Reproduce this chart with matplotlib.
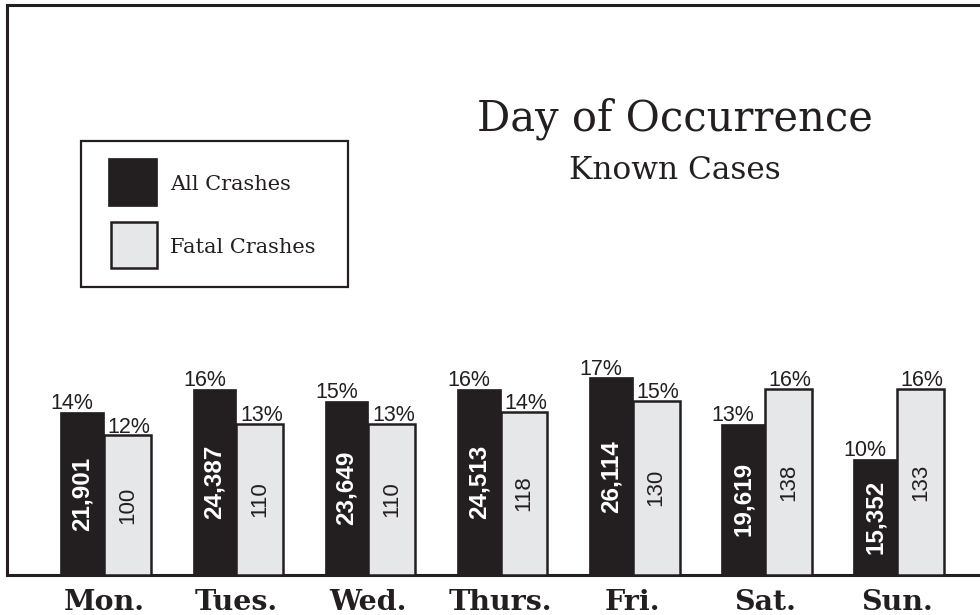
import numpy as np
import matplotlib.pyplot as plt
from matplotlib.patches import Rectangle

days = ['Mon.', 'Tues.', 'Wed.', 'Thurs.', 'Fri.', 'Sat.', 'Sun.']
all_crashes = [21901, 24387, 23649, 24513, 26114, 19619, 15352]
all_pct = [14, 16, 15, 16, 17, 13, 10]
fatal_crashes = [100, 110, 110, 118, 130, 138, 133]
fatal_pct = [12, 13, 13, 14, 15, 16, 16]

W, H = 980, 615
DARK = '#231f20'
LIGHT = '#e6e7e8'
sans = 'Liberation Sans'
serif = 'DejaVu Serif'


def px(x, y):
    # pixel position (from top-left) -> figure fraction
    return x / W, 1 - y / H


fig = plt.figure(figsize=(W / 100, H / 100), dpi=100)
ax = fig.add_axes([7 / W, (H - 575) / H, (W - 7) / W, 570 / H])

x = np.arange(len(days))
bw, gw = 0.33, 0.355

ax.bar(x - bw, all_pct, width=bw, align='edge', color=DARK, edgecolor=DARK,
       linewidth=0.5, zorder=2)
ax.bar(x, fatal_pct, width=gw, align='edge', color=LIGHT, edgecolor=DARK,
       linewidth=1.8, zorder=3)

for i in range(len(days)):
    ax.annotate(f'{all_pct[i]}%', (x[i] - 0.24, all_pct[i]), xytext=(0, 2),
                textcoords='offset points', ha='center', va='baseline',
                fontsize=15.5, family=sans, color=DARK, zorder=4)
    ax.annotate(f'{fatal_pct[i]}%', (x[i] + 0.19, fatal_pct[i]), xytext=(0, 2),
                textcoords='offset points', ha='center', va='baseline',
                fontsize=15.5, family=sans, color=DARK, zorder=4)
    ax.text(x[i] - bw / 2, all_pct[i] / 2, f'{all_crashes[i]:,}', rotation=90,
            ha='center', va='center', fontsize=17.5, fontweight='bold',
            family=sans, color='white', zorder=4)
    ax.text(x[i] + gw / 2, fatal_pct[i] / 2, f'{fatal_crashes[i]}', rotation=90,
            ha='center', va='center', fontsize=16, family=sans, color=DARK,
            zorder=4)

ax.set_xlim(-0.734, 6.628)
ax.set_ylim(0, 49.03)
ax.set_yticks([])
ax.set_xticks(x, days)
ax.tick_params(axis='x', length=0, pad=10)
for lab in ax.get_xticklabels():
    lab.set_fontfamily(serif)
    lab.set_fontweight('bold')
    lab.set_fontsize(20.5)
    lab.set_color(DARK)

for s in ['left', 'top', 'bottom']:
    ax.spines[s].set_linewidth(2.2)
    ax.spines[s].set_color(DARK)
ax.spines['right'].set_visible(False)

# title
fig.text(*px(675, 131), 'Day of Occurrence', ha='center', va='baseline',
         family=serif, fontsize=30, color=DARK)
fig.text(*px(675, 179), 'Known Cases', ha='center', va='baseline',
         family=serif, fontsize=22.5, color=DARK)

# legend box
def frect(x0, y0, x1, y1, **kw):
    fx0, fy1 = px(x0, y1)
    fig.add_artist(Rectangle((fx0, fy1), (x1 - x0) / W, (y1 - y0) / H,
                             transform=fig.transFigure, **kw))

frect(81, 141, 348, 287, facecolor='white', edgecolor=DARK, linewidth=1.6)
frect(108, 158, 157, 206, facecolor=DARK, edgecolor=DARK, linewidth=0.5)
frect(111, 222, 157, 268, facecolor=LIGHT, edgecolor=DARK, linewidth=1.8)
fig.text(*px(170, 190), 'All Crashes', ha='left', va='baseline',
         family=serif, fontsize=15, color=DARK)
fig.text(*px(170, 253), 'Fatal Crashes', ha='left', va='baseline',
         family=serif, fontsize=15, color=DARK)

fig.savefig('out.png', dpi=100)
